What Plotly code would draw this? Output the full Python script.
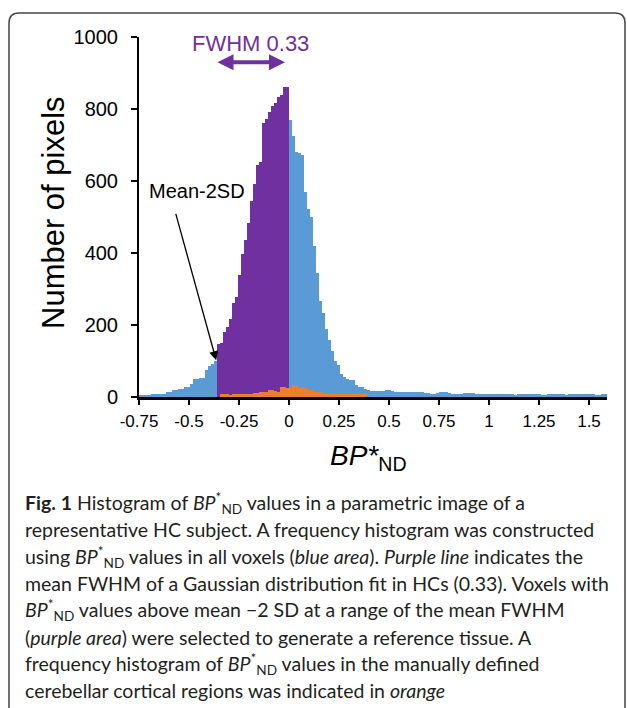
import numpy as np
import plotly.graph_objects as go

# ---------------- data ----------------
BIN_START = -0.75          # lower edge of first bin
BIN_WIDTH = 0.015          # histogram bin width

# all voxels (blue), one count per bin starting at BIN_START
all_voxels = [
    5, 6, 6, 6, 7, 8, 8, 8, 9, 14, 14, 19, 19, 22, 22, 27, 27, 36, 49, 50, 52, 52, 74, 85, 93, 99,
    148, 150, 180, 195, 217, 262, 278, 340, 398, 435, 482, 545, 593, 644, 653, 762, 773, 792, 808,
    818, 832, 840, 862, 862,
    770, 725, 680, 677, 672, 570, 523, 500, 420, 345,
    268, 232, 190, 158, 128, 100, 88, 65, 55, 50,
    47, 46, 32, 28, 28, 23, 20, 17, 17, 17,
    17, 18, 20, 20, 17, 14, 14, 14, 14, 15,
    15, 15, 15, 15, 13, 12, 10, 9, 9, 12,
    13, 13, 13, 10, 9, 9, 9, 9, 11, 12,
    12, 12, 9, 8, 8, 8, 8, 8, 8, 8,
    8, 8, 8, 8, 8, 5, 8, 8, 8, 8,
    8, 8, 8, 8, 4, 4, 7, 7, 7, 7,
    7, 7, 4, 8, 8, 8, 8, 8, 8, 8,
    8, 8, 4, 4, 8, 8,
]

# selected voxels (purple): bins from mean-2SD up to 0
MEAN_MINUS_2SD = -0.36
SELECTION_UPPER = 0.0

# cerebellar cortex (orange), first bin lower edge and counts
CEREBELLAR_START = -0.345
cerebellar = [
    8, 8, 8, 6, 7, 7, 7, 7, 7, 7,
    7, 12, 12, 14, 14, 14, 20, 20, 16, 15,
    28, 28, 26, 25, 32, 32, 24, 28, 26, 20,
    20, 15, 14, 14, 11, 11, 7, 7, 7, 7,
    7, 7, 7, 7, 7, 7, 7, 7, 7,
]

x_tick_vals = [-0.75, -0.5, -0.25, 0, 0.25, 0.5, 0.75, 1, 1.25, 1.5]
x_tick_text = ["-0.75", "-0.5", "-0.25", "0", "0.25", "0.5", "0.75", "1", "1.25", "1.5"]
y_tick_vals = [0, 200, 400, 600, 800, 1000]

FWHM_LABEL = "FWHM 0.33"
FWHM_FROM, FWHM_TO, FWHM_Y = -0.365, -0.02, 930

# ---------------- derived ----------------
edges = np.round(BIN_START + BIN_WIDTH * np.arange(len(all_voxels)), 4)
centers = edges + BIN_WIDTH / 2
sel = [(c, v) for e, c, v in zip(edges, centers, all_voxels)
       if MEAN_MINUS_2SD - 1e-9 <= e < SELECTION_UPPER - 1e-9]
sel_x = [c for c, _ in sel]
sel_y = [v for _, v in sel]
cer_x = np.round(CEREBELLAR_START + BIN_WIDTH * np.arange(len(cerebellar)), 4) + BIN_WIDTH / 2

# ---------------- figure geometry (pixels) ----------------
W, H = 627, 708
L, R, T, B = 139, 20, 37, 311
PW, PH = W - L - R, H - T - B


def px(xp):
    return (xp - L) / PW


def py(yp):
    return (H - B - yp) / PH


BLUE, PURPLE, ORANGE = "#5B9BD5", "#7030A0", "#ED7D31"
FONT = "Liberation Sans, Arial, sans-serif"
CAP_FONT = "Lato, Open Sans, sans-serif"

fig = go.Figure()
fig.add_trace(go.Bar(x=centers, y=all_voxels, width=BIN_WIDTH, marker=dict(color=BLUE, line=dict(width=0)),
                     hoverinfo="x+y", name="all voxels"))
fig.add_trace(go.Bar(x=sel_x, y=sel_y, width=BIN_WIDTH, marker=dict(color=PURPLE, line=dict(width=0)),
                     name="selected"))
fig.add_trace(go.Bar(x=cer_x, y=cerebellar, width=BIN_WIDTH, marker=dict(color=ORANGE, line=dict(width=0)),
                     name="cerebellar"))

fig.update_layout(
    width=W, height=H, margin=dict(l=L, r=R, t=T, b=B, pad=0),
    barmode="overlay", bargap=0, showlegend=False,
    plot_bgcolor="white", paper_bgcolor="white",
    font=dict(family=FONT, color="black"),
)
fig.update_xaxes(range=[BIN_START, 1.59], tickvals=x_tick_vals, ticktext=x_tick_text,
                 ticks="outside", ticklen=5, tickwidth=2, tickcolor="black",
                 showline=True, linewidth=2.5, linecolor="black", showgrid=False, zeroline=False,
                 tickfont=dict(size=17, family=FONT), ticklabelstandoff=2)
fig.update_yaxes(range=[0, 1000], tickvals=y_tick_vals,
                 ticks="outside", ticklen=6, tickwidth=2, tickcolor="black",
                 showline=True, linewidth=2, linecolor="black", showgrid=False, zeroline=False,
                 tickfont=dict(size=20, family=FONT), ticklabelstandoff=9)

ann = []
# axis titles
ann.append(dict(text="Number of pixels", x=px(53), y=py(213), xref="paper", yref="paper",
                textangle=-90, showarrow=False, font=dict(size=31, family=FONT),
                xanchor="center", yanchor="middle"))
ann.append(dict(text="<i>BP*</i><sub>ND</sub>", x=px(368), y=py(457), xref="paper", yref="paper",
                showarrow=False, font=dict(size=28, family=FONT), xanchor="center", yanchor="middle"))
# FWHM label and double arrow
ann.append(dict(text=FWHM_LABEL, x=(FWHM_FROM + FWHM_TO) / 2, y=py(43), xref="x", yref="paper",
                showarrow=False, font=dict(size=22, color=PURPLE, family=FONT),
                xanchor="center", yanchor="middle"))
ann.append(dict(text="", x=FWHM_TO, y=FWHM_Y, ax=FWHM_FROM, ay=FWHM_Y, xref="x", yref="y",
                axref="x", ayref="y", showarrow=True, arrowhead=2, arrowside="end+start",
                arrowwidth=4, arrowsize=0.8, arrowcolor=PURPLE, standoff=0, startstandoff=0))
# Mean-2SD label and arrow
ann.append(dict(text="Mean-2SD", x=-0.4585, y=571, xref="x", yref="y", showarrow=False,
                font=dict(size=20, family=FONT), xanchor="center", yanchor="middle"))
ann.append(dict(text="", x=-0.364, y=102, ax=-0.568, ay=513, xref="x", yref="y",
                axref="x", ayref="y", showarrow=True, arrowhead=2, arrowwidth=1.3,
                arrowsize=1.4, arrowcolor="black", standoff=0))

# caption
BPND = "<i>BP</i><sup>*</sup><sub>ND</sub>"
caption = [
    "<b>Fig. 1</b> Histogram of " + BPND + " values in a parametric image of a",
    "representative HC subject. A frequency histogram was constructed",
    "using " + BPND + " values in all voxels (<i>blue area</i>). <i>Purple line</i> indicates the",
    "mean FWHM of a Gaussian distribution fit in HCs (0.33). Voxels with",
    BPND + " values above mean \u22122 SD at a range of the mean FWHM",
    "(<i>purple area</i>) were selected to generate a reference tissue. A",
    "frequency histogram of " + BPND + " values in the manually defined",
    "cerebellar cortical regions was indicated in <i>orange</i>",
]
for i, line in enumerate(caption):
    ann.append(dict(text=line, x=px(23), y=py(503 + 26.8 * i), xref="paper", yref="paper",
                    showarrow=False, xanchor="left", yanchor="middle", align="left",
                    font=dict(size=19.5, family=CAP_FONT, color="#231f20")))
fig.update_layout(annotations=ann)

# rounded frame (open at the bottom of the page)
x0, y0, x1, y1, r = 9, 13, 625, 730, 10
path = (f"M {px(x0)},{py(y1)} L {px(x0)},{py(y0 + r)} Q {px(x0)},{py(y0)} {px(x0 + r)},{py(y0)} "
        f"L {px(x1 - r)},{py(y0)} Q {px(x1)},{py(y0)} {px(x1)},{py(y0 + r)} L {px(x1)},{py(y1)}")
fig.add_shape(type="path", path=path, xref="paper", yref="paper",
              line=dict(color="#444", width=1.5), layer="above")

fig.write_html("out.html", config={"displayModeBar": False},
               post_script="document.body.style.margin='0';document.body.style.overflow='hidden';")
